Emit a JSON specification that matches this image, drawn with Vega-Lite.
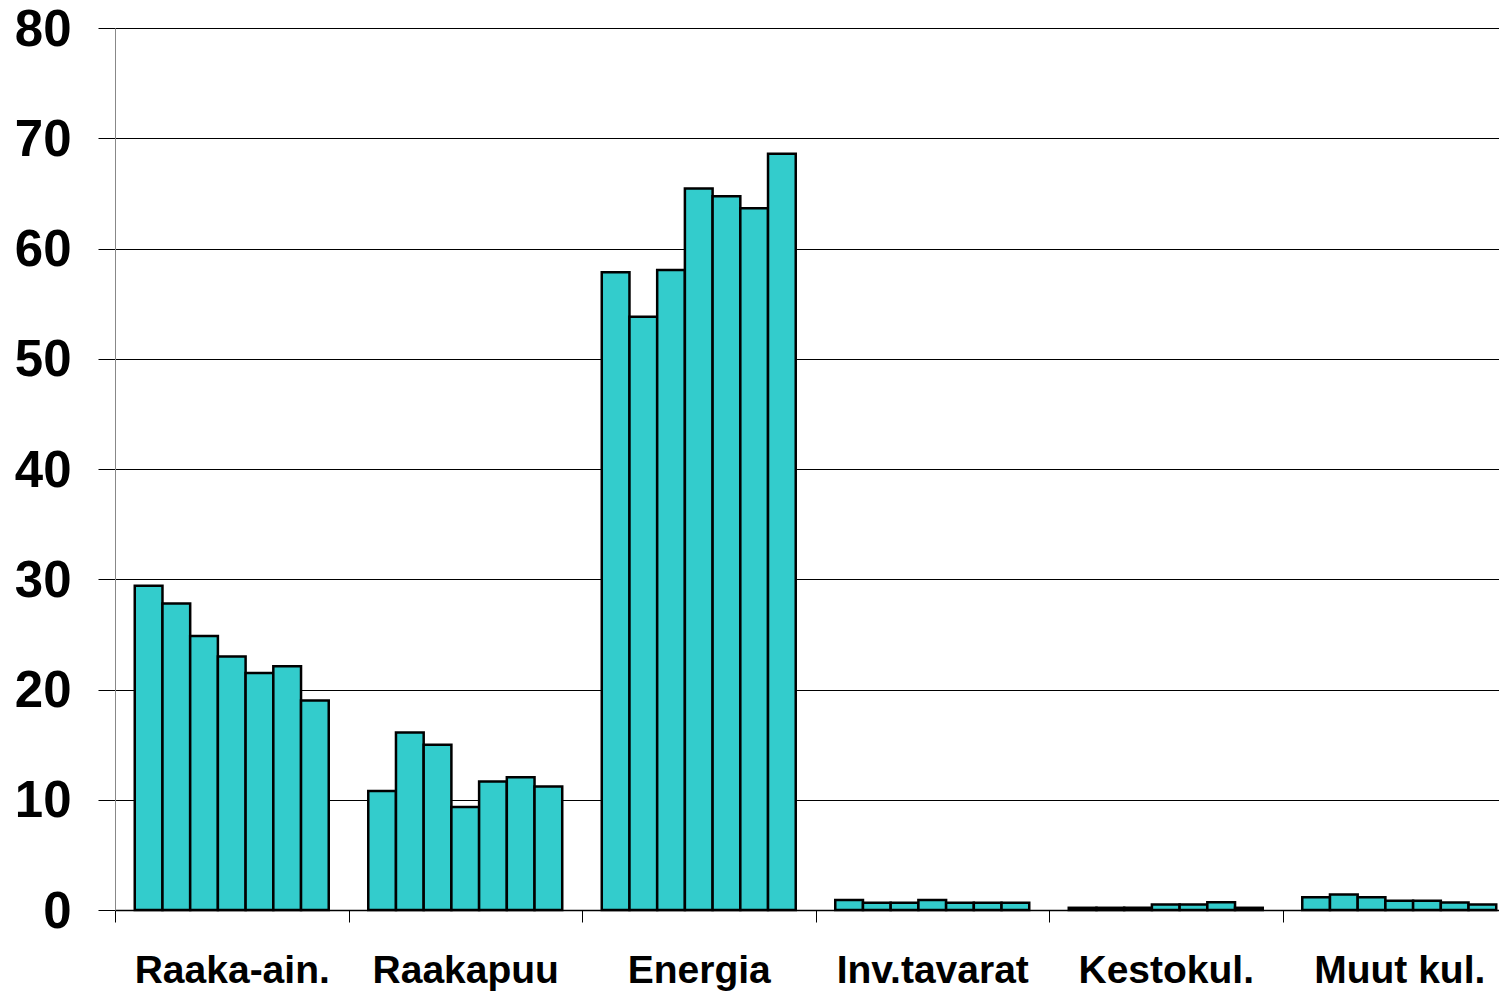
{
  "$schema": "https://vega.github.io/schema/vega-lite/v6.json",
  "autosize": {"type": "none"},
  "padding": {"left": 115, "top": 28, "right": 0, "bottom": 82},
  "width": 1384,
  "height": 882,
  "background": "white",
  "config": {
    "view": {"stroke": null},
    "font": "Liberation Sans"
  },
  "data": {
    "values": [
      {"cat": "Raaka-ain.", "s": 1, "v": 29.4},
      {"cat": "Raaka-ain.", "s": 2, "v": 27.8},
      {"cat": "Raaka-ain.", "s": 3, "v": 24.85},
      {"cat": "Raaka-ain.", "s": 4, "v": 23.0},
      {"cat": "Raaka-ain.", "s": 5, "v": 21.5},
      {"cat": "Raaka-ain.", "s": 6, "v": 22.1},
      {"cat": "Raaka-ain.", "s": 7, "v": 19.0},
      {"cat": "Raakapuu", "s": 1, "v": 10.8},
      {"cat": "Raakapuu", "s": 2, "v": 16.1},
      {"cat": "Raakapuu", "s": 3, "v": 15.0},
      {"cat": "Raakapuu", "s": 4, "v": 9.35},
      {"cat": "Raakapuu", "s": 5, "v": 11.65},
      {"cat": "Raakapuu", "s": 6, "v": 12.05},
      {"cat": "Raakapuu", "s": 7, "v": 11.2},
      {"cat": "Energia", "s": 1, "v": 57.85},
      {"cat": "Energia", "s": 2, "v": 53.8},
      {"cat": "Energia", "s": 3, "v": 58.05},
      {"cat": "Energia", "s": 4, "v": 65.45},
      {"cat": "Energia", "s": 5, "v": 64.75},
      {"cat": "Energia", "s": 6, "v": 63.65},
      {"cat": "Energia", "s": 7, "v": 68.6},
      {"cat": "Inv.tavarat", "s": 1, "v": 0.9},
      {"cat": "Inv.tavarat", "s": 2, "v": 0.65},
      {"cat": "Inv.tavarat", "s": 3, "v": 0.65},
      {"cat": "Inv.tavarat", "s": 4, "v": 0.9},
      {"cat": "Inv.tavarat", "s": 5, "v": 0.65},
      {"cat": "Inv.tavarat", "s": 6, "v": 0.65},
      {"cat": "Inv.tavarat", "s": 7, "v": 0.65},
      {"cat": "Kestokul.", "s": 1, "v": 0.2},
      {"cat": "Kestokul.", "s": 2, "v": 0.2},
      {"cat": "Kestokul.", "s": 3, "v": 0.2},
      {"cat": "Kestokul.", "s": 4, "v": 0.5},
      {"cat": "Kestokul.", "s": 5, "v": 0.5},
      {"cat": "Kestokul.", "s": 6, "v": 0.7},
      {"cat": "Kestokul.", "s": 7, "v": 0.2},
      {"cat": "Muut kul.", "s": 1, "v": 1.15},
      {"cat": "Muut kul.", "s": 2, "v": 1.4},
      {"cat": "Muut kul.", "s": 3, "v": 1.15},
      {"cat": "Muut kul.", "s": 4, "v": 0.85},
      {"cat": "Muut kul.", "s": 5, "v": 0.85},
      {"cat": "Muut kul.", "s": 6, "v": 0.68},
      {"cat": "Muut kul.", "s": 7, "v": 0.5}
    ]
  },
  "mark": {"type": "bar", "fill": "#33CCCC", "stroke": "black", "strokeWidth": 2.5},
  "encoding": {
    "x": {
      "field": "cat",
      "type": "nominal",
      "sort": null,
      "title": null,
      "scale": {"range": [0, 1401], "paddingInner": 0, "paddingOuter": 0},
      "axis": {
        "tickBand": "extent",
        "labelAngle": 0,
        "labelFont": "Liberation Sans",
        "labelFontWeight": "bold",
        "labelFontSize": 39,
        "labelColor": "black",
        "labelPadding": 29,
        "labelBaseline": "top",
        "labelLimit": 0,
        "labelOverlap": false,
        "tickSize": 12,
        "tickColor": "black",
        "tickWidth": 1,
        "domain": true,
        "domainColor": "black",
        "domainWidth": 1.5,
        "grid": false
      }
    },
    "xOffset": {
      "field": "s",
      "type": "ordinal",
      "scale": {"paddingInner": 0, "paddingOuter": 0.713}
    },
    "y": {
      "field": "v",
      "type": "quantitative",
      "title": null,
      "scale": {"domain": [0, 80], "nice": false},
      "axis": {
        "values": [0, 10, 20, 30, 40, 50, 60, 70, 80],
        "grid": true,
        "gridColor": "black",
        "gridWidth": 1,
        "gridOpacity": 1,
        "tickSize": 17,
        "tickColor": "black",
        "tickWidth": 1,
        "domain": true,
        "domainColor": "#888888",
        "domainWidth": 1,
        "labelFont": "Liberation Sans",
        "labelFontWeight": "bold",
        "labelFontSize": 51,
        "labelColor": "black",
        "labelPadding": 27,
        "labelOffset": 2
      }
    }
  }
}
